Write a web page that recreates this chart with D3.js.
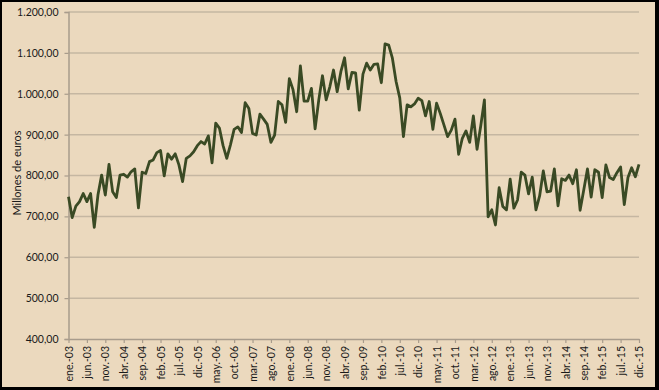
<!DOCTYPE html>
<html><head><meta charset="utf-8">
<script src="https://cdn.jsdelivr.net/npm/d3@7"></script>
<style>
html,body{margin:0;padding:0;background:#fff;}
svg{display:block;}
text{font-family:Lato,"Open Sans",sans-serif;fill:#1a1a1a;}
</style></head>
<body><svg id="c" width="659" height="390"></svg>
<script>
const monthNames = ["ene.","feb.","mar.","abr.","may.","jun.","jul.","ago.","sep.","oct.","nov.","dic."];
const years = [3,4,5,6,7,8,9,10,11,12,13,14,15];
const values = [
748,697,725,736,756,736,756,673,752,801,752,827,
760,746,801,803,796,809,816,721,808,805,834,838,
856,861,799,853,840,853,826,785,842,848,858,873,
883,877,897,831,928,916,873,842,875,913,919,905,
978,964,903,899,950,938,925,881,899,981,973,930,
1037,1010,956,1068,982,982,1013,914,985,1044,985,1017,
1058,1005,1054,1088,1012,1052,1051,960,1048,1075,1058,1072,
1073,1027,1122,1119,1087,1030,990,895,973,968,975,989,
983,946,981,913,977,952,924,895,911,938,852,891,
909,881,946,864,921,985,699,716,679,770,724,716,
791,720,740,808,801,755,796,716,750,811,760,762,
816,726,792,788,801,780,814,715,765,816,747,814,
808,746,826,795,790,807,821,729,795,819,797,827
];
const yTicks = [400,500,600,700,800,900,1000,1100,1200];
const yTitle = "Millones de euros";

const categories = [];
years.forEach(y => monthNames.forEach(m => categories.push(m + "-" + String(y).padStart(2,"0"))));
const tickLabels = categories.filter((d,i) => i % 5 === 0);

const svg = d3.select("#c");
const W = 659, H = 390;
svg.append("rect").attr("x",0).attr("y",0).attr("width",W).attr("height",H).attr("fill","#000");
svg.append("rect").attr("x",2).attr("y",2).attr("width",W-6).attr("height",H-5).attr("fill","#EBD9BE");

const x = d3.scalePoint().domain(categories).range([68.5, 639]);
const y = d3.scaleLinear().domain([400,1200]).range([339, 12]);

const fmt = v => d3.formatLocale({decimal:",",thousands:".",grouping:[3]}).format(",.2f")(v);

// gridlines
svg.append("g").selectAll("line").data(yTicks.filter(v=>v>400)).join("line")
  .attr("x1",68.5).attr("x2",639).attr("y1",d=>y(d)).attr("y2",d=>y(d))
  .attr("stroke","#C5B7A2").attr("stroke-width",1.5);

// y axis
const ya = svg.append("g").attr("transform","translate(68.5,0)")
  .call(d3.axisLeft(y).tickValues(yTicks).tickFormat(fmt).tickSize(4).tickPadding(6));
ya.select(".domain").attr("stroke","#A89C8C").attr("stroke-width",1.5);
ya.selectAll(".tick line").attr("stroke","#A89C8C").attr("stroke-width",1.2);
ya.selectAll("text").attr("font-size","10.5px").attr("fill","#1a1a1a").style("font-family","Lato, sans-serif");

// x axis
const xa = svg.append("g").attr("transform","translate(0,339)")
  .call(d3.axisBottom(x).tickValues(tickLabels).tickSize(4).tickPadding(4).tickSizeOuter(0));
xa.select(".domain").attr("stroke","#A89C8C").attr("stroke-width",1.5);
xa.selectAll(".tick line").attr("stroke","#A89C8C").attr("stroke-width",1.2);
xa.selectAll("text").attr("font-size","10.5px").attr("fill","#1a1a1a").style("font-family","Lato, sans-serif")
  .attr("transform","rotate(-90)").attr("text-anchor","end").attr("x",-7).attr("y",0).attr("dy","0.35em");

// title
svg.append("text").attr("transform","translate(21,173) rotate(-90)").attr("text-anchor","middle")
  .attr("font-size","11px").text(yTitle);

// line
svg.append("path").datum(values)
  .attr("fill","none").attr("stroke","#3A4A24").attr("stroke-width",2.8).attr("stroke-linejoin","round")
  .attr("d", d3.line().x((d,i)=>x(categories[i])).y(d=>y(d)));
</script></body></html>
